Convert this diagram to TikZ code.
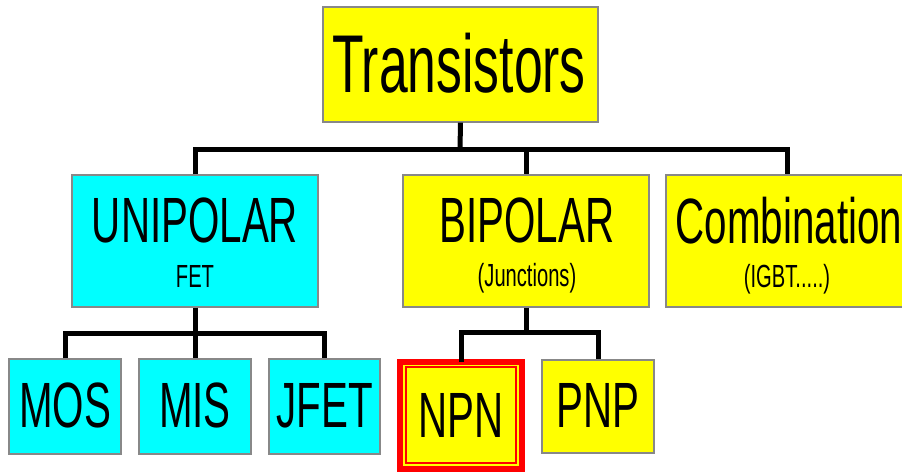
\documentclass[tikz,border=0pt]{standalone}
\usepackage{fontspec}
\setmainfont{Liberation Sans}[FakeStretch=0.63]
\definecolor{boxyellow}{HTML}{FFFF00}
\definecolor{boxcyan}{HTML}{00FFFF}
\definecolor{boxedge}{HTML}{888888}
\definecolor{hired}{HTML}{FF0000}
\begin{document}
\begin{tikzpicture}[x=1pt,y=-1pt,
  box/.style={draw=boxedge,line width=1.3pt,inner sep=0pt},
  ybox/.style={box,fill=boxyellow},
  cbox/.style={box,fill=boxcyan},
  bigtxt/.style={inner sep=0pt,anchor=base,font=\fontsize{64}{64}\selectfont},
  hugetxt/.style={inner sep=0pt,anchor=base,font=\fontsize{82}{82}\selectfont},
  smalltxt/.style={inner sep=0pt,anchor=base,font=\fontsize{32}{32}\selectfont},
  tree/.style={draw=black,line width=5pt}]
\useasboundingbox (0,0) rectangle (902,472);
\clip (0,0) rectangle (902,472);

% top level
\node[ybox,minimum width=275pt,minimum height=115pt] (T) at (460.5,64.5) {};
\node[hugetxt] (Tt) at (459,92) {Transistors};

% second level
\node[cbox,minimum width=246pt,minimum height=132pt] (U) at (195,241) {};
\node[bigtxt] (Ut) at (195,242) {UNIPOLAR};
\node[smalltxt] (Us) at (195,287) {FET};

\node[ybox,minimum width=246pt,minimum height=132pt] (B) at (526,241) {};
\node[bigtxt] (Bt) at (527,242) {BIPOLAR};
\node[smalltxt] (Bs) at (527,286) {(Junctions)};

\node[ybox,minimum width=242pt,minimum height=132pt] (C) at (787,241) {};
\node[bigtxt] (Ct) at (789,243) {Combination};
\node[smalltxt] (Cs) at (787,287) {(IGBT.....)};

% third level, unipolar branch
\node[cbox,minimum width=112pt,minimum height=95pt] (MOS) at (65,406.5) {};
\node[bigtxt] (MOSt) at (65,427) {MOS};
\node[cbox,minimum width=112pt,minimum height=95pt] (MIS) at (195,406.5) {};
\node[bigtxt] (MISt) at (195,427) {MIS};
\node[cbox,minimum width=111pt,minimum height=95pt] (JFET) at (324.5,406.5) {};
\node[bigtxt] (JFETt) at (324.5,427) {JFET};

% third level, bipolar branch: highlighted box with a double red frame
\node[fill=boxyellow,draw=hired,line width=6pt,inner sep=0pt,
      minimum width=122pt,minimum height=107pt] (NPN) at (461,415.5) {};
\draw[hired,line width=1.3pt] (406,367) rectangle (516,463);
\node[bigtxt] (NPNt) at (461,437) {NPN};
\node[ybox,minimum width=112pt,minimum height=93pt] (PNP) at (598,406.5) {};
\node[bigtxt] (PNPt) at (598,427) {PNP};

% connector hubs
\coordinate (h1) at (460,149);
\coordinate (h2) at (195,333);
\coordinate (h3) at (526,332);

\draw[tree] (T.south) -- (h1);
\draw[tree] (U.north) |- (h1) -| (C.north);
\draw[tree] (h1) -| (B.north);

\draw[tree] (U.south) -- (h2);
\draw[tree] (MOS.north) |- (h2) -| (JFET.north);
\draw[tree] (h2) -- (MIS.north);

\draw[tree] (B.south) -- (h3);
\draw[tree] ([yshift=-3pt]NPN.north) |- (h3) -| (PNP.north);
\end{tikzpicture}
\end{document}
